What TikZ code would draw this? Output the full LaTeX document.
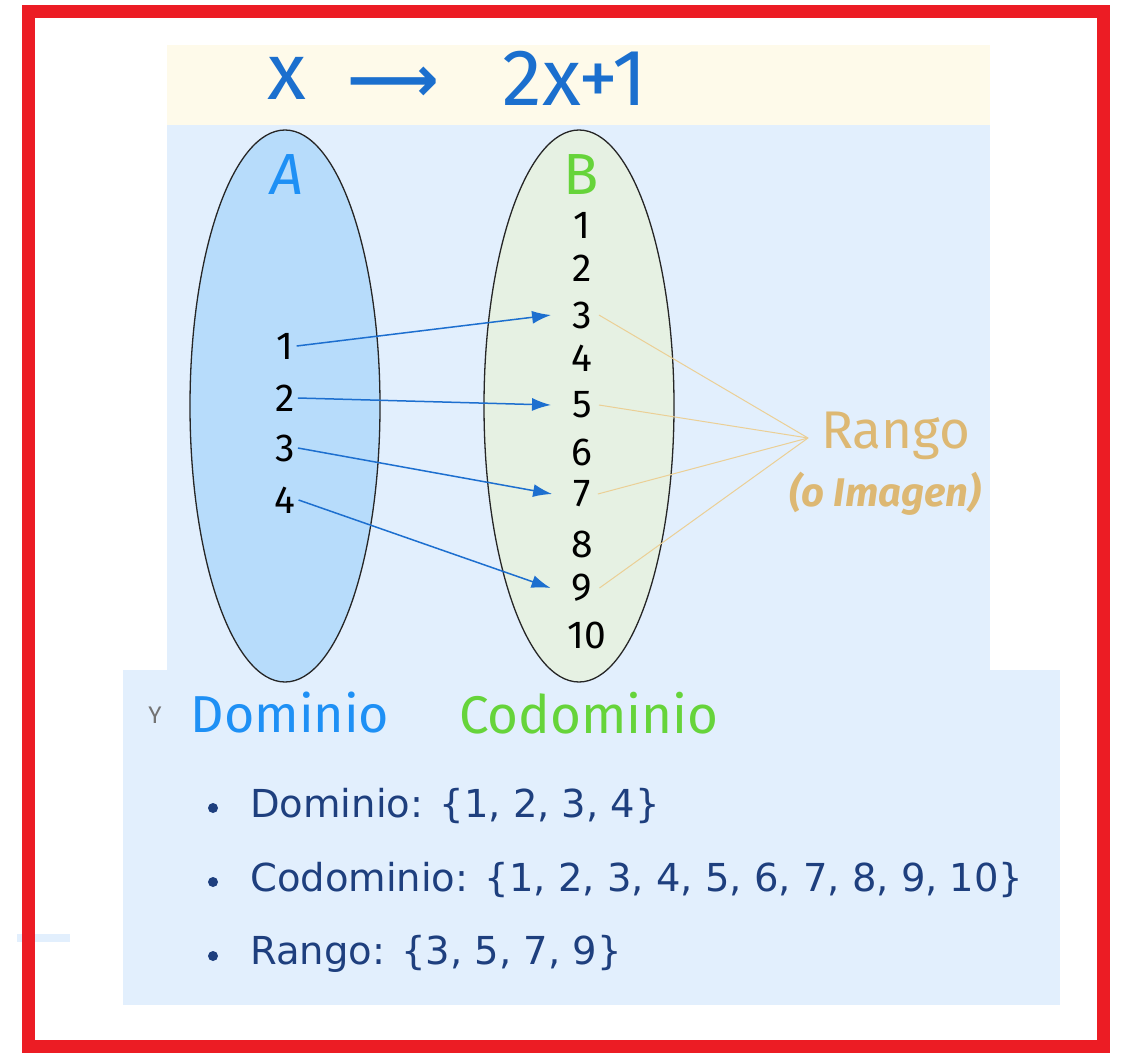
\documentclass[tikz,border=0pt]{standalone}
\usepackage{fontspec}
\setmainfont{Fira Sans}
\newfontfamily\listfont{DejaVu Sans}
\newfontfamily\symfont{DejaVu Sans}
\usetikzlibrary{shapes.geometric,arrows.meta}
\definecolor{frame}{HTML}{EC1C24}
\definecolor{titleblue}{HTML}{1B6FCE}
\definecolor{setblue}{HTML}{1E90F5}
\definecolor{setgreen}{HTML}{66D43A}
\definecolor{tan}{HTML}{DDB873}
\definecolor{tanline}{HTML}{EBCF95}
\definecolor{arrowblue}{HTML}{1D6FCF}
\definecolor{listblue}{HTML}{1E3F7E}
\definecolor{panel}{HTML}{E2EFFD}
\definecolor{cream}{HTML}{FEFAEA}
\definecolor{fillA}{HTML}{B7DCFB}
\definecolor{fillB}{HTML}{E6F1E3}
\newcommand{\fsz}[1]{\fontsize{#1}{#1}\selectfont}
\begin{document}
\begin{tikzpicture}[x=1pt,y=-1pt,
  setell/.style={ellipse, draw=black!85, line width=1.3pt, minimum width=190pt, minimum height=552pt, inner sep=0pt},
  num/.style={inner sep=1pt, font=\fsz{39}},
  mapto/.style={draw=arrowblue, line width=1.5pt, -{Latex[length=19pt,width=13pt]}},
  rline/.style={draw=tanline, line width=1pt},
  item/.style={anchor=west, inner sep=0pt, text=listblue, font=\listfont\fsz{38.5}},
  dot/.style={circle, fill=listblue, inner sep=0pt, minimum size=10pt}]
\useasboundingbox (0,0) rectangle (1123,1054);
\fill[white] (0,0) rectangle (1123,1054);
% panels
\fill[cream] (167,45) rectangle (990,125);
\fill[panel] (167,125) rectangle (990,672);
\fill[panel] (123,670) rectangle (1060,1005);
\fill[panel] (17,934) rectangle (70,942);
% title
\node[text=titleblue, font=\fsz{80}, inner sep=0pt] (tx) at (287,78) {x};
\node[text=titleblue, font=\symfont\bfseries\fsz{64}, inner sep=0pt] (tarr) at (393,84) {⟶};
\node[text=titleblue, font=\fsz{80}, inner sep=0pt] (tf) at (575,78) {2x+1};
% ellipses
\node[setell, fill=fillA] (A) at (285,406) {};
\node[setell, fill=fillB] (B) at (579,406) {};
\node[text=setblue, font=\itshape\fsz{58}, inner sep=0pt] (Al) at (287,175) {A};
\node[text=setgreen, font=\fsz{58}, inner sep=0pt] (Bl) at (581,175) {B};
% domain numbers
\node[num] (a1) at (285,346) {1};
\node[num] (a2) at (285,398) {2};
\node[num] (a3) at (285,448) {3};
\node[num] (a4) at (285,500) {4};
% codomain numbers
\node[num] (b1) at (582,225) {1};
\node[num] (b2) at (582,268) {2};
\node[num] (b3) at (582,315) {3};
\node[num] (b4) at (582,358) {4};
\node[num] (b5) at (582,405) {5};
\node[num] (b6) at (582,452) {6};
\node[num] (b7) at (582,494) {7};
\node[num] (b8) at (582,544) {8};
\node[num] (b9) at (582,588) {9};
\node[num] (b10) at (587,635) {10};
% mapping arrows
\draw[mapto] ([xshift=2pt]a1.east) -- ([xshift=-20pt]b3.west);
\draw[mapto] ([xshift=2pt]a2.east) -- ([xshift=-20pt]b5.west);
\draw[mapto] ([xshift=2pt]a3.east) -- ([xshift=-20pt]b7.west);
\draw[mapto] ([xshift=2pt]a4.east) -- ([xshift=-20pt]b9.west);
% range
\coordinate (rp) at (808,438);
\draw[rline] ([xshift=6pt]b3.east) -- (rp);
\draw[rline] ([xshift=6pt]b5.east) -- (rp);
\draw[rline] ([xshift=6pt]b7.east) -- (rp);
\draw[rline] ([xshift=6pt]b9.east) -- (rp);
\node[text=tan, font=\fsz{53}, anchor=west, inner sep=0pt] (rango) at (821,436) {Rango};
\begin{scope}
\clip (167,460) rectangle (990,530);
\node[text=tan, font=\bfseries\itshape\fsz{40}, anchor=west, inner sep=0pt] (img) at (789,494) {(o Imagen)};
\end{scope}
% labels
\node[text=black!55, font=\fsz{24}, inner sep=0pt] (y) at (155,715) {Y};
\node[text=setblue, font=\fsz{52}, inner sep=0pt] (dom) at (290,713) {Dominio};
\node[text=setgreen, font=\fsz{53}, inner sep=0pt] (cod) at (589,713) {Codominio};
% list
\node[dot] (d1) at (213,808) {};
\node[dot] (d2) at (213,882) {};
\node[dot] (d3) at (213,956) {};
\node[item] (l1) at (250,806) {Dominio: \{1, 2, 3, 4\}};
\node[item] (l2) at (250,880) {Codominio: \{1, 2, 3, 4, 5, 6, 7, 8, 9, 10\}};
\node[item] (l3) at (250,954) {Rango: \{3, 5, 7, 9\}};
% frame
\draw[frame, line width=13pt] (28.5,11.5) rectangle (1103.5,1046);
\end{tikzpicture}
\end{document}
